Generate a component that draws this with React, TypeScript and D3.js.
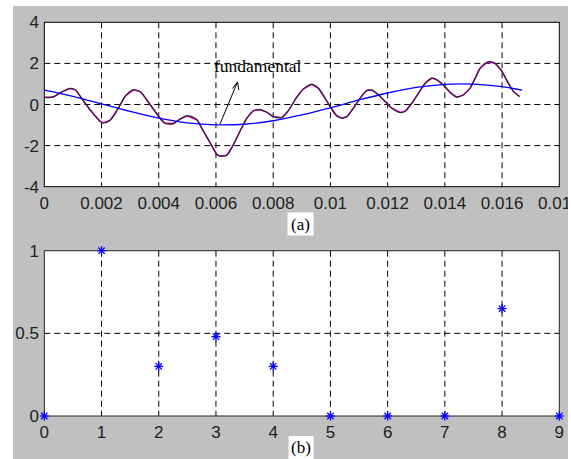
import React from "react";
import * as d3 from "d3";

const sigTime = [0, 0.0003, 0.0006, 0.0009, 0.0011, 0.0013, 0.0016, 0.00195, 0.00206, 0.0023, 0.00259, 0.00282, 0.00311, 0.00335, 0.00358, 0.00387, 0.0042, 0.0045, 0.0047, 0.00498, 0.00533, 0.00556, 0.0058, 0.00603, 0.00614, 0.00638, 0.00661, 0.00684, 0.00708, 0.00731, 0.00754, 0.00778, 0.008, 0.0083, 0.00853, 0.0088, 0.00905, 0.00935, 0.00958, 0.00981, 0.00999, 0.01022, 0.0104, 0.01057, 0.0108, 0.01104, 0.01127, 0.01145, 0.01168, 0.01191, 0.01215, 0.01244, 0.01261, 0.01285, 0.01308, 0.01331, 0.01355, 0.01372, 0.01395, 0.01419, 0.01442, 0.01465, 0.01488, 0.01506, 0.01523, 0.01552, 0.01576, 0.016, 0.01622, 0.0164, 0.01661];
const sigValue = [0.35, 0.36, 0.6, 0.78, 0.7, 0.31, -0.26, -0.82, -0.9, -0.77, -0.18, 0.39, 0.71, 0.63, 0.23, -0.34, -0.9, -0.93, -0.75, -0.55, -0.74, -1.3, -1.87, -2.43, -2.5, -2.47, -1.95, -1.3, -0.66, -0.3, -0.25, -0.38, -0.58, -0.64, -0.3, 0.31, 0.75, 0.98, 0.79, 0.31, -0.1, -0.55, -0.66, -0.6, -0.18, 0.31, 0.68, 0.7, 0.47, 0.15, -0.18, -0.39, -0.33, 0.07, 0.55, 1.03, 1.28, 1.2, 0.95, 0.58, 0.36, 0.47, 0.79, 1.28, 1.76, 2.08, 2.0, 1.6, 1.03, 0.63, 0.39];

const fundTime = [0, 0.001, 0.002, 0.003, 0.004, 0.005, 0.006, 0.007, 0.008, 0.009, 0.01, 0.011, 0.012, 0.013, 0.014, 0.015, 0.016, 0.0167];
const fundValue = [0.7, 0.4, 0.03, -0.34, -0.66, -0.89, -0.99, -0.96, -0.79, -0.51, -0.16, 0.22, 0.56, 0.83, 0.98, 0.99, 0.87, 0.7];

const harmonics = [0, 1, 2, 3, 4, 5, 6, 7, 8, 9];
const magnitudes = [0, 1, 0.3, 0.48, 0.3, 0, 0, 0, 0.65, 0];

const topXTicks = [0, 0.002, 0.004, 0.006, 0.008, 0.01, 0.012, 0.014, 0.016, 0.018];
const topXLabels = ["0", "0.002", "0.004", "0.006", "0.008", "0.01", "0.012", "0.014", "0.016", "0.018"];
const topYTicks = [-4, -2, 0, 2, 4];
const botYTicks = [0, 0.5, 1];
const botYLabels = ["0", "0.5", "1"];

const L = 44.3, R = 559.3;
const T1 = 22.3, B1 = 186.7;
const T2 = 250.7, B2 = 416;
const tickFont = "'Liberation Sans', Arial, sans-serif";
const serif = "'Liberation Serif', 'Times New Roman', serif";

function Star({ x, y }: { x: number; y: number }) {
  const r = 4.5, d = 3.2;
  return (
    <g stroke="#0000ff" strokeWidth={1.3}>
      <line x1={x - r} y1={y} x2={x + r} y2={y} />
      <line x1={x} y1={y - r} x2={x} y2={y + r} />
      <line x1={x - d} y1={y - d} x2={x + d} y2={y + d} />
      <line x1={x - d} y1={y + d} x2={x + d} y2={y - d} />
    </g>
  );
}

export default function App() {
  const x1 = d3.scaleLinear().domain([0, 0.018]).range([L, R]);
  const y1 = d3.scaleLinear().domain([-4, 4]).range([B1, T1]);
  const x2 = d3.scaleLinear().domain([0, 9]).range([L, R]);
  const y2 = d3.scaleLinear().domain([0, 1]).range([B2, T2]);

  const sig = sigTime.map((t, i) => [t, sigValue[i]] as [number, number]);
  const fund = fundTime.map((t, i) => [t, fundValue[i]] as [number, number]);

  const smooth = d3.line<[number, number]>().x(d => x1(d[0])).y(d => y1(d[1])).curve(d3.curveCatmullRom.alpha(0.5));
  const lin = d3.line<[number, number]>().x(d => x1(d[0])).y(d => y1(d[1]));

  const dash = "6,4";

  return (
    <svg width={571} height={459} style={{ position: "fixed", left: 0, top: 0 }}>
      <defs>
        <clipPath id="fig"><rect x={13} y={6} width={555} height={453} /></clipPath>
        <clipPath id="ax1"><rect x={L} y={T1} width={R - L} height={B1 - T1} /></clipPath>
      </defs>
      <rect x={0} y={0} width={571} height={459} fill="#fff" />
      <g clipPath="url(#fig)">
        <rect x={13} y={6} width={555} height={453} fill="#c0c0c0" />

        <rect x={L} y={T1} width={R - L} height={B1 - T1} fill="#fff" />
        {topXTicks.slice(1, -1).map(t => (
          <line key={"gx" + t} x1={x1(t)} x2={x1(t)} y1={T1} y2={B1} stroke="#000" strokeDasharray={dash} />
        ))}
        {topYTicks.slice(1, -1).map(v => (
          <line key={"gy" + v} x1={L} x2={R} y1={y1(v)} y2={y1(v)} stroke="#000" strokeDasharray={dash} />
        ))}
        <g clipPath="url(#ax1)">
          <path d={lin(sig) || ""} fill="none" stroke="#ff00ff" strokeWidth={1.5} />
          <path d={smooth(sig) || ""} fill="none" stroke="#222" strokeWidth={1.2} />
          <path d={smooth(fund) || ""} fill="none" stroke="#0000ff" strokeWidth={1.3} />
        </g>
        <rect x={L} y={T1} width={R - L} height={B1 - T1} fill="none" stroke="#000" strokeWidth={1} />
        {topXTicks.map((t, i) => (
          <text key={"tx" + t} x={x1(t)} y={209} textAnchor="middle" fontFamily={tickFont} fontSize={17} fill="#222">{topXLabels[i]}</text>
        ))}
        {topYTicks.map(v => (
          <text key={"ty" + v} x={39} y={y1(v) + 6} textAnchor="end" fontFamily={tickFont} fontSize={17} fill="#222">{String(v)}</text>
        ))}

        <text x={214} y={72} fontFamily={serif} fontSize={17.5} fill="#000">fundamental</text>
        <line x1={220} y1={124} x2={237.5} y2={82} stroke="#000" strokeWidth={1} />
        <polyline points="232.5,88.5 237.5,82 238.8,90" fill="none" stroke="#000" strokeWidth={1} />

        <rect x={287.5} y={212.5} width={26} height={23} fill="#fff" />
        <text x={300.5} y={230} textAnchor="middle" fontFamily={serif} fontSize={17} fill="#000">(a)</text>

        <rect x={L} y={T2} width={R - L} height={B2 - T2} fill="#fff" />
        {harmonics.slice(1, -1).map(h => (
          <line key={"bgx" + h} x1={x2(h)} x2={x2(h)} y1={T2} y2={B2} stroke="#000" strokeDasharray={dash} />
        ))}
        <line x1={L} x2={R} y1={y2(0.5)} y2={y2(0.5)} stroke="#000" strokeDasharray={dash} />
        <rect x={L} y={T2} width={R - L} height={B2 - T2} fill="none" stroke="#222" strokeWidth={1} />
        {harmonics.map((h, i) => (
          <Star key={"s" + h} x={x2(h)} y={y2(magnitudes[i])} />
        ))}
        {harmonics.map(h => (
          <text key={"bx" + h} x={x2(h)} y={438} textAnchor="middle" fontFamily={tickFont} fontSize={17} fill="#222">{h}</text>
        ))}
        {botYTicks.map((v, i) => (
          <text key={"by" + v} x={39} y={y2(v) + 6} textAnchor="end" fontFamily={tickFont} fontSize={17} fill="#222">{botYLabels[i]}</text>
        ))}
        <rect x={288.5} y={436} width={25} height={23} fill="#fff" />
        <text x={301} y={453} textAnchor="middle" fontFamily={serif} fontSize={17} fill="#000">(b)</text>
      </g>
    </svg>
  );
}
